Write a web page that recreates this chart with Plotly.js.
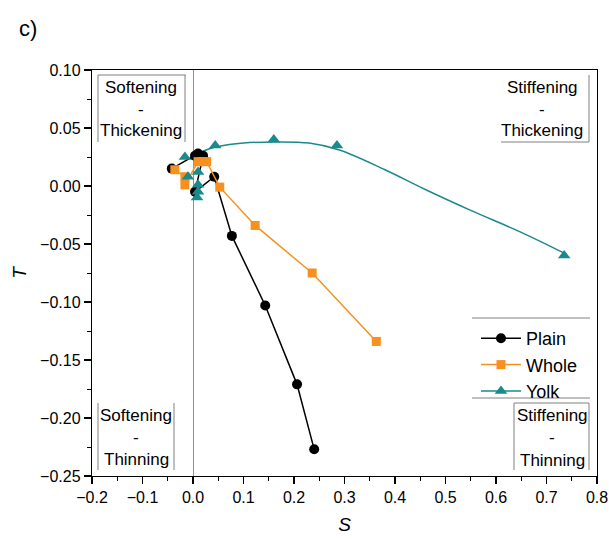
<!DOCTYPE html>
<html>
<head>
<meta charset="utf-8">
<script src="https://cdn.plot.ly/plotly-3.0.1.min.js"></script>
<style>html,body{margin:0;padding:0;background:#fff;}#chart{width:609px;height:539px;}</style>
</head>
<body>
<div id="chart"></div>
<script>
// Plain (black circles)
const plainS = [-0.042, 0.004, 0.010, 0.020, 0.004, 0.042, 0.077, 0.143, 0.206, 0.240];
const plainT = [0.015, 0.026, 0.028, 0.026, -0.005, 0.008, -0.043, -0.103, -0.171, -0.227];
// Whole (orange squares)
const wholeS = [-0.036, -0.016, -0.016, 0.010, 0.018, 0.027, 0.053, 0.123, 0.236, 0.363];
const wholeT = [0.014, 0.008, 0.001, 0.021, 0.021, 0.021, -0.001, -0.034, -0.075, -0.134];
// Yolk (teal triangles)
const yolkS = [-0.016, -0.010, 0.010, 0.010, 0.010, 0.008, 0.044, 0.160, 0.285, 0.735];
const yolkT = [0.025, 0.008, 0.012, 0.001, -0.005, -0.010, 0.035, 0.040, 0.035, -0.060];
// Yolk fitted curve
const fitS = [-0.005, 0.02, 0.05, 0.10, 0.16, 0.23, 0.29, 0.38, 0.46, 0.55, 0.65, 0.74];
const fitT = [0.023, 0.030, 0.034, 0.037, 0.038, 0.037, 0.031, 0.014, -0.003, -0.021, -0.040, -0.059];

const xTicks = [-0.2, -0.1, 0.0, 0.1, 0.2, 0.3, 0.4, 0.5, 0.6, 0.7, 0.8];
const xTickText = ['\u22120.2', '\u22120.1', '0.0', '0.1', '0.2', '0.3', '0.4', '0.5', '0.6', '0.7', '0.8'];
const yTicks = [-0.25, -0.20, -0.15, -0.10, -0.05, 0.00, 0.05, 0.10];
const yTickText = ['\u22120.25', '\u22120.20', '\u22120.15', '\u22120.10', '\u22120.05', '0.00', '0.05', '0.10'];

const BLACK = '#000000', ORANGE = '#F7901E', TEAL = '#1A8A8C';

// interleave nulls so yolk markers are not connected (legend still shows line+marker)
const ySx = [], ySy = [];
yolkS.forEach((v, i) => { ySx.push(v, null); ySy.push(yolkT[i], null); });

const traces = [
  {x: fitS, y: fitT, mode: 'lines', line: {color: TEAL, width: 1.5, shape: 'spline', smoothing: 1}, showlegend: false, hoverinfo: 'skip'},
  {x: plainS, y: plainT, name: 'Plain', mode: 'lines+markers', line: {color: BLACK, width: 1.5}, marker: {symbol: 'circle', size: 10, color: BLACK}},
  {x: wholeS, y: wholeT, name: 'Whole', mode: 'lines+markers', line: {color: ORANGE, width: 1.5}, marker: {symbol: 'square', size: 9, color: ORANGE}},
  {x: ySx, y: ySy, name: 'Yolk', mode: 'lines+markers', connectgaps: false, line: {color: TEAL, width: 1.5}, marker: {symbol: 'triangle-up', size: 11, color: TEAL}}
];

const FONT = 'Liberation Sans, Arial, sans-serif';
function px(x) { return (x - 92) / 505; }
function py(y) { return (476 - y) / 406; }
function ln(x0, y0, x1, y1) {
  return {type: 'line', xref: 'paper', yref: 'paper', x0: px(x0), y0: py(y0), x1: px(x1), y1: py(y1), line: {color: '#808080', width: 1}};
}
function txt(x, y, t) {
  return {xref: 'paper', yref: 'paper', x: px(x), y: py(y), text: t, showarrow: false, xanchor: 'center', yanchor: 'middle', font: {family: FONT, size: 17, color: '#000'}};
}

const shapes = [
  // top-left box
  ln(98, 75, 186, 75), ln(98, 75, 98, 142), ln(185, 75, 185, 142),
  // top-right box
  ln(589, 75, 589, 142), ln(501, 142, 589, 142),
  // bottom-left box
  ln(98, 403, 98, 470), ln(174, 403, 174, 470),
  // bottom-right box
  ln(514, 403, 589, 403), ln(514, 403, 514, 470), ln(589, 403, 589, 470),
  // legend lines
  ln(472, 318, 590, 318), ln(472, 398, 590, 398)
];

const annotations = [
  txt(141, 88, 'Softening'), txt(141, 109, '-'), txt(141, 130, 'Thickening'),
  txt(542, 88, 'Stiffening'), txt(542, 109, '-'), txt(542, 130, 'Thickening'),
  txt(136, 415, 'Softening'), txt(136, 437, '-'), txt(136, 459, 'Thinning'),
  txt(552, 415, 'Stiffening'), txt(552, 437, '-'), txt(552, 460, 'Thinning'),
  {xref: 'paper', yref: 'paper', x: -64 / 505, y: (476 - 28) / 406, text: 'c)', showarrow: false, xanchor: 'center', yanchor: 'middle', font: {family: FONT, size: 22, color: '#000'}}
];

const layout = {
  width: 609, height: 539,
  margin: {l: 92, r: 12, t: 70, b: 63},
  paper_bgcolor: '#fff', plot_bgcolor: '#fff',
  font: {family: FONT, size: 16, color: '#000'},
  showlegend: true,
  legend: {x: px(476), y: py(320), xanchor: 'left', yanchor: 'top', bgcolor: 'rgba(0,0,0,0)', font: {family: FONT, size: 18, color: '#000'}, tracegroupgap: 0, itemwidth: 40},
  xaxis: {
    range: [-0.2, 0.8], tickmode: 'array', tickvals: xTicks, ticktext: xTickText,
    ticks: 'outside', ticklen: 7, tickwidth: 1.2, tickcolor: '#000',
    minor: {dtick: 0.05, ticks: 'outside', ticklen: 4, tickcolor: '#000', tickwidth: 1, showgrid: false},
    showline: true, linecolor: '#000', linewidth: 1.2, mirror: true, showgrid: false,
    zeroline: true, zerolinecolor: '#909090', zerolinewidth: 1,
    tickfont: {family: FONT, size: 16},
    title: {text: '<i>S</i>', font: {family: FONT, size: 19}, standoff: 12}
  },
  yaxis: {
    range: [-0.25, 0.10], tickmode: 'array', tickvals: yTicks, ticktext: yTickText,
    ticks: 'outside', ticklen: 7, tickwidth: 1.2, tickcolor: '#000',
    minor: {dtick: 0.025, ticks: 'outside', ticklen: 4, tickcolor: '#000', tickwidth: 1, showgrid: false},
    showline: true, linecolor: '#000', linewidth: 1.2, mirror: true, showgrid: false,
    zeroline: false,
    tickfont: {family: FONT, size: 16},
    title: {text: '<i>T</i>', font: {family: FONT, size: 19}, standoff: 8}
  },
  shapes: shapes,
  annotations: annotations
};

Plotly.newPlot('chart', traces, layout, {displayModeBar: false, staticPlot: true});
</script>
</body>
</html>
